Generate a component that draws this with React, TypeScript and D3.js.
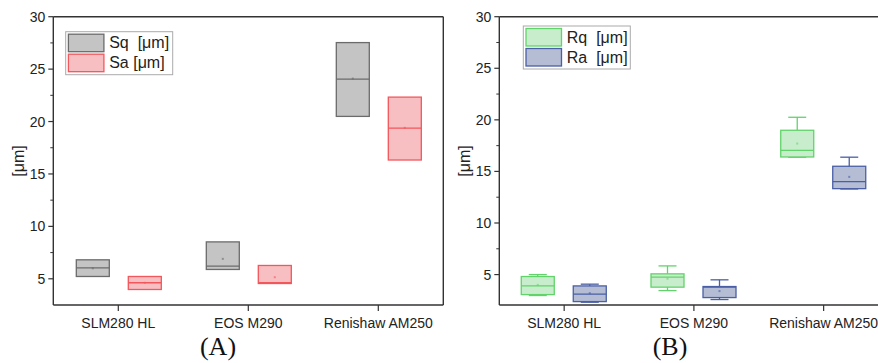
import React from 'react';
import { scaleLinear, scaleBand } from 'd3';

// categories shared by both panels
const categories = ['SLM280 HL', 'EOS M290', 'Renishaw AM250'];

// box stats per category: [min, q1, median, q3, max, mean]
const sqStats = [
  [5.22, 5.22, 6.05, 6.81, 6.81, 6.0],
  [5.89, 5.89, 6.2, 8.52, 8.52, 6.9],
  [20.49, 20.49, 24.05, 27.53, 27.53, 24.1],
];
const saStats = [
  [3.98, 3.98, 4.62, 5.22, 5.22, 4.62],
  [4.55, 4.55, 4.62, 6.27, 6.27, 5.15],
  [16.33, 16.33, 19.38, 22.33, 22.33, 19.4],
];
const rqStats = [
  [2.97, 3.06, 3.9, 4.81, 5.0, 4.0],
  [3.45, 3.78, 4.75, 5.07, 5.84, 4.6],
  [16.37, 16.4, 17.05, 18.99, 20.25, 17.7],
];
const raStats = [
  [2.32, 2.38, 3.1, 3.9, 4.07, 3.2],
  [2.58, 2.77, 3.78, 3.84, 4.49, 3.4],
  [13.3, 13.33, 14.01, 15.5, 16.38, 14.47],
];

const yTicks = [5, 10, 15, 20, 25, 30];
const yMinorTicks = [7.5, 12.5, 17.5, 22.5, 27.5];

type Series = { name: string; stats: number[][]; fill: string; stroke: string; offset: number };

const axisColor = '#333';
const font = '"Liberation Sans", Arial, sans-serif';

const Panel = ({ x0, x1, yMin, series, label, labelX, legendX, legendY, titleX }: {
  x0: number; x1: number; yMin: number; series: Series[]; label: string; labelX: number;
  legendX: number; legendY: number; titleX: number;
}) => {
  const top = 16.7, bottom = 305;
  const x = scaleBand().domain(categories).range([x0, x1]).padding(0);
  const y = scaleLinear().domain([yMin, 30]).range([bottom, top]);
  const bw = 33;
  const cx = (c: string) => (x(c) as number) + x.bandwidth() / 2;

  return (
    <g>
      {series.map((s) =>
        s.stats.map((d, i) => {
          const c = cx(categories[i]) + s.offset;
          const [mn, q1, med, q3, mx, mean] = d;
          return (
            <g key={s.name + i} stroke={s.stroke} strokeWidth={1.3}>
              {mx > q3 && <line x1={c} x2={c} y1={y(q3)} y2={y(mx)} />}
              {mx > q3 && <line x1={c - 9} x2={c + 9} y1={y(mx)} y2={y(mx)} />}
              {mn < q1 && <line x1={c} x2={c} y1={y(q1)} y2={y(mn)} />}
              {mn < q1 && <line x1={c - 9} x2={c + 9} y1={y(mn)} y2={y(mn)} />}
              <rect x={c - bw / 2} width={bw} y={y(q3)} height={y(q1) - y(q3)} fill={s.fill} />
              <line x1={c - bw / 2} x2={c + bw / 2} y1={y(med)} y2={y(med)} />
              <rect x={c - 1} y={y(mean) - 1} width={2} height={2} fill={s.stroke} stroke="none" opacity={0.6} />
            </g>
          );
        })
      )}

      {/* frame */}
      <line x1={x0} x2={x0} y1={top} y2={bottom} stroke={axisColor} strokeWidth={1.4} />
      <line x1={x0} x2={x1} y1={bottom} y2={bottom} stroke={axisColor} strokeWidth={1.4} />
      <line x1={x0} x2={x1} y1={top} y2={top} stroke={axisColor} strokeWidth={1.4} />
      <line x1={x1} x2={x1} y1={top} y2={bottom} stroke={axisColor} strokeWidth={1.4} />

      {/* y ticks */}
      {yTicks.map((t) => (
        <g key={t}>
          <line x1={x0 - 5} x2={x0} y1={y(t)} y2={y(t)} stroke={axisColor} strokeWidth={1.2} />
          <text x={x0 - 8} y={y(t)} dy="0.36em" textAnchor="end" fontSize={14} fontFamily={font} fill="#222">{t}</text>
        </g>
      ))}
      {yMinorTicks.map((t) => (
        <line key={t} x1={x0 - 3} x2={x0} y1={y(t)} y2={y(t)} stroke={axisColor} strokeWidth={1} />
      ))}

      {/* x ticks */}
      {categories.map((c) => (
        <g key={c}>
          <line x1={cx(c)} x2={cx(c)} y1={bottom} y2={bottom + 6} stroke={axisColor} strokeWidth={1.2} />
          <text x={cx(c)} y={328} textAnchor="middle" fontSize={14} fontFamily={font} fill="#222">{c}</text>
        </g>
      ))}

      <text transform={`translate(${titleX},161) rotate(-90)`} textAnchor="middle" dy="0.35em" fontSize={16} fontFamily={font} fill="#222">[μm]</text>

      {/* legend */}
      <rect x={legendX} y={legendY} width={107} height={43} fill="#fff" stroke="#aaa" strokeWidth={1} />
      {series.map((s, i) => (
        <g key={s.name}>
          <rect x={legendX + 2.7} y={legendY + 2.5 + i * 20} width={35.5} height={17.5} fill={s.fill} stroke={s.stroke} strokeWidth={1.3} />
          <text x={legendX + 43.5} y={legendY + 16.5 + i * 20} fontSize={16} fontFamily={font} fill="#222" style={{ whiteSpace: 'pre' }}>{s.name}</text>
        </g>
      ))}

      <text x={labelX} y={355} textAnchor="middle" fontSize={26} fontFamily='"Liberation Serif", "Times New Roman", serif' fill="#111">{label}</text>
    </g>
  );
};

export default function App() {
  const left: Series[] = [
    { name: 'Sq  [μm]', stats: sqStats, fill: '#c4c4c4', stroke: '#6b6b6b', offset: -25.5 },
    { name: 'Sa [μm]', stats: saStats, fill: '#f8bfc2', stroke: '#f2575c', offset: 26.5 },
  ];
  const right: Series[] = [
    { name: 'Rq  [μm]', stats: rqStats, fill: '#c8edcc', stroke: '#62d36a', offset: -26.4 },
    { name: 'Ra  [μm]', stats: raStats, fill: '#b4bdd4', stroke: '#4a5fa5', offset: 25.6 },
  ];
  return (
    <svg width={878} height={363} style={{ position: 'absolute', left: 0, top: 0, background: '#fff' }}>
      <Panel x0={53.3} x1={443.3} yMin={2.5} series={left} label="(A)" labelX={218} legendX={65.7} legendY={31.7} titleX={18.5} />
      <Panel x0={499.3} x1={888.5} yMin={2.05} series={right} label="(B)" labelX={670} legendX={523.3} legendY={26} titleX={464} />
    </svg>
  );
}
